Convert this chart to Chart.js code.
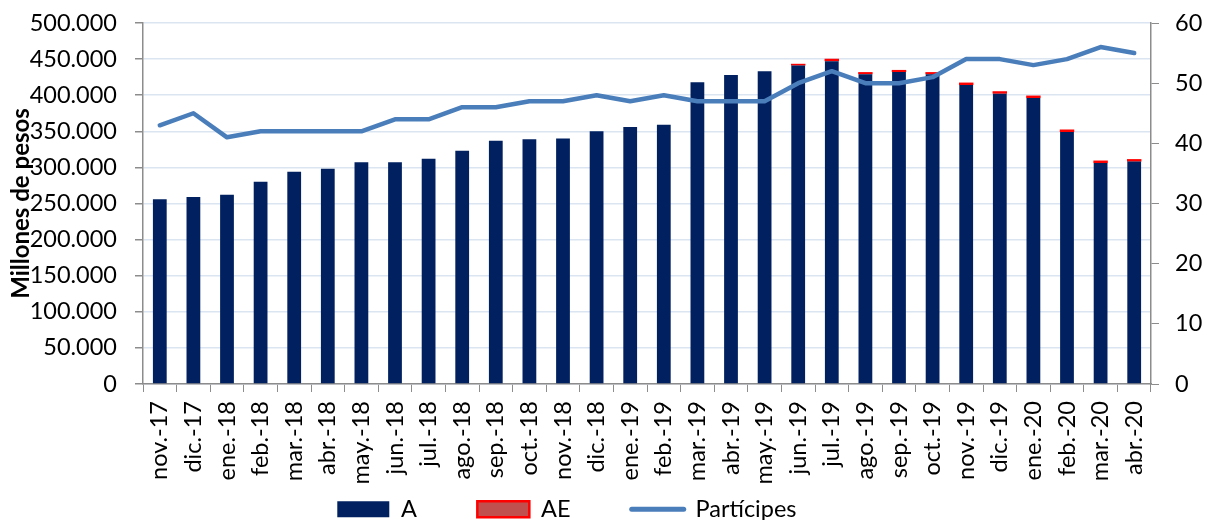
<!DOCTYPE html>
<html><head><meta charset="utf-8">
<script src="https://cdn.jsdelivr.net/npm/chart.js@4.4.1/dist/chart.umd.min.js"></script>
<style>html,body{margin:0;padding:0;background:#fff;}#wrap{width:1212px;height:520px;}</style>
</head><body><div id="wrap"><canvas id="c" width="1212" height="520"></canvas></div>
<script>
const categories = ["nov.-17","dic.-17","ene.-18","feb.-18","mar.-18","abr.-18","may.-18","jun.-18","jul.-18","ago.-18","sep.-18","oct.-18","nov.-18","dic.-18","ene.-19","feb.-19","mar.-19","abr.-19","may.-19","jun.-19","jul.-19","ago.-19","sep.-19","oct.-19","nov.-19","dic.-19","ene.-20","feb.-20","mar.-20","abr.-20"];
const seriesA = [256000,259000,262000,280000,294000,298000,307000,307000,312000,323000,337000,339000,340000,350000,356000,359000,418000,428000,433000,441000,447000,429000,432000,429000,414000,402000,396000,349000,306000,308000];
const seriesAE = [0,0,0,0,0,0,0,0,0,0,0,0,0,0,0,0,0,0,0,2500,3500,3000,3000,3000,3500,3500,3500,3500,3500,3500];
const seriesParticipes = [43,45,41,42,42,42,42,44,44,46,46,47,47,48,47,48,47,47,47,50,52,50,50,51,54,54,53,54,56,55];
const leftTicks = [0,50000,100000,150000,200000,250000,300000,350000,400000,450000,500000];
const rightTicks = [0,10,20,30,40,50,60];
</script>
<script>
const FONT = "Lato, 'Open Sans', sans-serif";
const GRAY = '#8c8c8c';
const TS = 23.5;
const PADB = -11;
function fmt(v){ return v.toLocaleString('de-DE'); }
const nb = n => '\u00a0'.repeat(n);
new Chart(document.getElementById('c'), {
  data: {
    labels: categories,
    datasets: [
      {type:'bar', label:'A', data: seriesA, backgroundColor:'#002060', borderWidth:0, stack:'s', yAxisID:'y', order:1, barPercentage:0.41, categoryPercentage:1},
      {type:'bar', label:'AE', data: seriesAE, backgroundColor:'#ff0000', borderWidth:0, stack:'s', yAxisID:'y', order:2, barPercentage:0.43, categoryPercentage:1},
      {type:'line', label:'Partícipes', data: seriesParticipes, borderColor:'#4a7ebb', backgroundColor:'#4a7ebb', borderWidth:4.5, pointRadius:0, tension:0, yAxisID:'y1', order:0, borderCapStyle:'round', borderJoinStyle:'round'}
    ]
  },
  options: {
    responsive:false, animation:false, devicePixelRatio:1,
    layout:{padding:{top:23,left:0,right:0,bottom:PADB}},
    plugins:{
      tooltip:{enabled:false},
      legend:{
        position:'bottom',
        labels:{
          font:{family:FONT,size:TS}, color:'#000', padding:1,
          usePointStyle:true, pointStyleWidth:52, boxHeight:16,
          generateLabels(chart){
            const items = Chart.defaults.plugins.legend.labels.generateLabels(chart);
            const texts = ['A'+nb(10),'AE'+nb(10),'Partícipes'+nb(13)];
            items.forEach((it,i)=>{
              it.text = texts[i];
              if(i===0){ it.pointStyle='rect'; it.fillStyle='#002060'; it.strokeStyle='#002060'; it.lineWidth=0; }
              if(i===1){ it.pointStyle='rect'; it.fillStyle='#c0504d'; it.strokeStyle='#ff0000'; it.lineWidth=2.5; }
              if(i===2){ it.pointStyle='line'; it.strokeStyle='#4a7ebb'; it.lineWidth=5; it.lineCap='round'; }
            });
            return items;
          }
        }
      }
    },
    scales:{
      x:{
        offset:true,
        grid:{display:true, drawOnChartArea:false, drawTicks:true, tickLength:8, tickColor:GRAY, offset:true},
        border:{display:true,color:GRAY,width:1.5},
        ticks:{font:{family:FONT,size:TS}, color:'#000', minRotation:90, maxRotation:90, padding:9, autoSkip:false},
        afterFit(s){ const lh = s.chart.legend ? s.chart.legend.height : 34; s.height = 520 - PADB - 384 - lh; }
      },
      y:{
        position:'left', min:0, max:500000,
        afterBuildTicks(s){ s.ticks = leftTicks.map(v=>({value:v})); },
        grid:{color:'#dbe5f1', lineWidth:1.5, tickLength:8, tickColor:GRAY, drawTicks:true},
        border:{display:true,color:GRAY,width:1.5},
        ticks:{font:{family:FONT,size:TS}, color:'#000', padding:18, callback:(v)=>fmt(v)},
        title:{display:true, text:'Millones de pesos', font:{family:FONT,size:24,weight:'bold'}, color:'#000', padding:{top:7,bottom:0}},
        afterFit(s){ s.width = 143; s.paddingTop = 10; s.paddingBottom = 10; }
      },
      y1:{
        position:'right', min:0, max:60,
        afterBuildTicks(s){ s.ticks = rightTicks.map(v=>({value:v})); },
        grid:{drawOnChartArea:false, tickLength:8, tickColor:GRAY, drawTicks:true},
        border:{display:true,color:GRAY,width:1.5},
        ticks:{font:{family:FONT,size:TS}, color:'#000', padding:16},
        afterFit(s){ s.width = 61; s.paddingTop = 10; s.paddingBottom = 10; }
      }
    }
  }
});
</script>
</body></html>
